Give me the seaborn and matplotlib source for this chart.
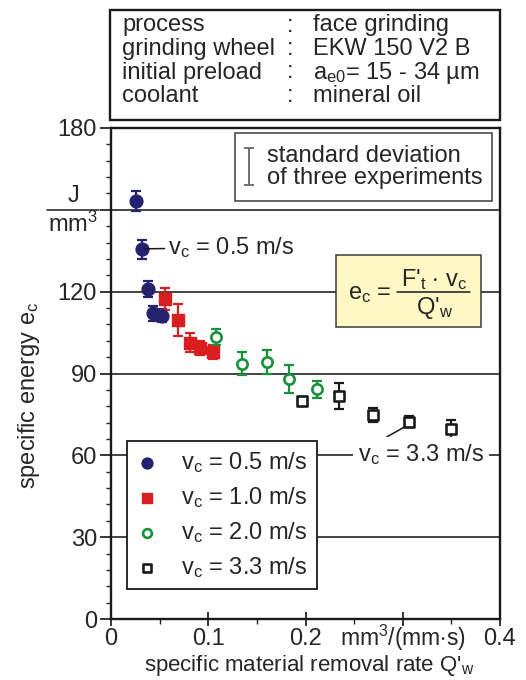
import matplotlib
matplotlib.use("Agg")
import matplotlib.pyplot as plt
import seaborn as sns
import pandas as pd
from matplotlib.patches import Rectangle
from matplotlib.lines import Line2D
from matplotlib.ticker import MultipleLocator
import matplotlib.transforms as mtrans

# ---------------- data ----------------
q05 = [0.0257, 0.0316, 0.0384, 0.0435, 0.0520]
e05 = [153.2, 135.6, 121.0, 112.1, 111.2]
s05 = [3.7, 3.5, 2.9, 2.8, 2.5]

q10 = [0.0555, 0.0686, 0.0812, 0.0915, 0.1050]
e10 = [117.3, 109.6, 101.3, 99.3, 98.0]
s10 = [4.0, 5.8, 3.5, 2.5, 2.6]

q20 = [0.1077, 0.1350, 0.1600, 0.1834, 0.2118]
e20 = [103.3, 93.5, 94.3, 88.0, 84.2]
s20 = [2.9, 4.2, 4.3, 5.2, 3.0]

q33 = [0.1960, 0.2344, 0.2697, 0.3067, 0.3493]
e33 = [80.0, 81.7, 74.8, 72.3, 69.5]
s33 = [1.5, 4.7, 2.7, 2.0, 3.6]

series_labels = [r"v$_\mathrm{c}$ = 0.5 m/s", r"v$_\mathrm{c}$ = 1.0 m/s",
                 r"v$_\mathrm{c}$ = 2.0 m/s", r"v$_\mathrm{c}$ = 3.3 m/s"]
x_ticks = [0, 0.1, 0.2, 0.3, 0.4]
x_ticklabels = ["0", "0.1", "0.2", r"mm$^\mathrm{3}$/(mm$\cdot$s)", "0.4"]
y_ticks = [0, 30, 60, 90, 120, 150, 180]
y_ticklabels = ["0", "30", "60", "90", "120", "", "180"]

info_keys = ["process", "grinding wheel", "initial preload", "coolant"]
info_vals = ["face grinding", "EKW 150 V2 B", r"a$_\mathrm{e0}$= 15 - 34 µm", "mineral oil"]

# ---------------- style ----------------
sns.set_style("white")
plt.rcParams["font.family"] = ["Liberation Sans", "DejaVu Sans"]
plt.rcParams["mathtext.fontset"] = "custom"
plt.rcParams["mathtext.rm"] = "Liberation Sans"
plt.rcParams["mathtext.it"] = "Liberation Sans"
plt.rcParams["mathtext.bf"] = "Liberation Sans:bold"

FS = 17
c05, c10, c20, c33 = "#24216e", "#d81e1e", "#17913a", "#1a1a1a"

fig = plt.figure(figsize=(5.26, 6.80), dpi=100)
ax = fig.add_axes([111/526, 1-619/680, 389/526, 491/680])

df = pd.concat([
    pd.DataFrame({"q": q05, "e": e05, "s": s05, "v": series_labels[0]}),
    pd.DataFrame({"q": q10, "e": e10, "s": s10, "v": series_labels[1]}),
    pd.DataFrame({"q": q20, "e": e20, "s": s20, "v": series_labels[2]}),
    pd.DataFrame({"q": q33, "e": e33, "s": s33, "v": series_labels[3]}),
])

# gridlines
for yv in [30, 60, 90, 120, 150]:
    ax.axhline(yv, color="#222222", lw=1.2, zorder=1)

styles = [
    (series_labels[0], c05, "o", c05, 85, 1.0),
    (series_labels[1], c10, "s", c10, 80, 1.0),
    (series_labels[2], c20, "o", "white", 55, 1.9),
    (series_labels[3], c33, "s", "white", 52, 1.9),
]
for lab, col, mk, fc, size, lw in styles:
    d = df[df["v"] == lab]
    ax.errorbar(d["q"], d["e"], yerr=d["s"], fmt="none", ecolor=col,
                elinewidth=1.6, capsize=3.8, capthick=1.6, zorder=3)
    sns.scatterplot(data=d, x="q", y="e", marker=mk, color=col, facecolor=fc,
                    edgecolor=col, linewidth=lw, s=size, ax=ax, zorder=4,
                    label=lab)

ax.set_xlim(0, 0.4)
ax.set_ylim(0, 180)
ax.set_xticks(x_ticks)
# the unit (at x=0.3) is drawn separately so it can sit slightly higher
ax.set_xticklabels([t if i != 3 else "" for i, t in enumerate(x_ticklabels)], fontsize=FS)
ax.text(x_ticks[3], -0.054, x_ticklabels[3], fontsize=16.5, ha="center", va="baseline",
        transform=mtrans.blended_transform_factory(ax.transData, ax.transAxes), clip_on=False)
ax.set_yticks(y_ticks)
ax.set_yticklabels(y_ticklabels, fontsize=FS)
ax.xaxis.set_minor_locator(MultipleLocator(0.05))
ax.yaxis.set_minor_locator(MultipleLocator(6))
ax.tick_params(axis="y", which="major", direction="out", length=8, width=1.3, pad=2, left=True)
ax.tick_params(axis="y", which="minor", direction="out", length=3.5, width=1.0, left=True)
ax.tick_params(axis="x", which="major", direction="inout", length=10, width=1.3, pad=1.5, bottom=True)
ax.tick_params(axis="x", which="minor", direction="out", length=3.5, width=1.0, bottom=True)
for sp in ax.spines.values():
    sp.set_linewidth(1.7)
    sp.set_color("#1a1a1a")

ax.set_xlabel(r"specific material removal rate Q'$_\mathrm{w}$", fontsize=16)
ax.xaxis.set_label_coords(0.51, -0.070)
ax.set_ylabel(r"specific energy e$_\mathrm{c}$", fontsize=FS)
ax.yaxis.set_label_coords(-0.177, 0.455)

# J / mm3 unit label at 150
tr = mtrans.blended_transform_factory(ax.transAxes, ax.transData)
ux = (73-111)/389
ax.text(ux, 151.0, "J", ha="center", va="bottom", fontsize=FS, transform=tr, clip_on=False)
ax.text(ux, 149.2, r"mm$^\mathrm{3}$", ha="center", va="top", fontsize=FS, transform=tr, clip_on=False)
ax.add_line(Line2D([(47-111)/389, (99-111)/389], [150, 150], transform=tr,
                   color="#1a1a1a", lw=1.1, clip_on=False))

# legend
leg = ax.legend(loc="lower left", bbox_to_anchor=(0.040, 0.061), borderaxespad=0,
                fontsize=FS, frameon=True, fancybox=False, edgecolor="#1a1a1a",
                framealpha=1, handletextpad=1.0, labelspacing=0.42, borderpad=0.4,
                handlelength=0.9, markerscale=0.85)
leg.get_frame().set_linewidth(1.3)
leg.set_zorder(6)

# annotations
ax.annotate(series_labels[0], xy=(0.0345, 135.7), xytext=(0.0585, 136.2),
            fontsize=FS, va="center", ha="left",
            arrowprops=dict(arrowstyle="-", color="#1a1a1a", lw=1.1, shrinkA=0, shrinkB=0),
            zorder=5)
ax.annotate(series_labels[3], xy=(0.3013, 70.3), xytext=(0.254, 60.4),
            fontsize=FS, va="center", ha="left",
            bbox=dict(boxstyle="square,pad=0.2", fc="white", ec="none"),
            arrowprops=dict(arrowstyle="-", color="#1a1a1a", lw=1.1, shrinkA=0, shrinkB=0,
                            relpos=(0.16, 1.0)),
            zorder=5)

# standard deviation box
ax.add_patch(Rectangle((0.1275, 153.3), 0.264, 24.8, fc="white", ec="#3a3a3a", lw=1.1, zorder=5))
ax.errorbar([0.142], [165.9], yerr=[6.7], fmt="none", ecolor="#666666",
            elinewidth=1.3, capsize=3.3, capthick=1.3, zorder=6)
ax.text(0.1605, 165.8, "standard deviation\nof three experiments", fontsize=FS,
        va="center", ha="left", linespacing=1.0, zorder=6)

# formula box
ax.add_patch(Rectangle((0.231, 106.9), 0.1495, 26.5, fc="#fff7c4", ec="#3a3a3a", lw=1.1, zorder=5))
ax.text(0.2435, 119.3, r"e$_\mathrm{c}$ =", fontsize=FS, va="center", ha="left", zorder=6)
ax.text(0.332, 124.3, r"F'$_\mathrm{t}$ $\cdot$ v$_\mathrm{c}$", fontsize=FS, va="center", ha="center", zorder=6)
ax.text(0.333, 113.9, r"Q'$_\mathrm{w}$", fontsize=FS, va="center", ha="center", zorder=6)
ax.add_line(Line2D([0.294, 0.3695], [120.0, 120.0], color="#1a1a1a", lw=1.1, zorder=6))

# info box
fig.add_artist(Rectangle((110/526, 1-120/680), 390/526, 110/680, transform=fig.transFigure,
                         fc="white", ec="#1a1a1a", lw=1.7))
rows_base = [31.5, 55, 78.5, 102]
for yy, k, v in zip(rows_base, info_keys, info_vals):
    fig.text(122/526, 1-yy/680, k, fontsize=FS, va="baseline", ha="left")
    fig.text(287/526, 1-yy/680, ":", fontsize=FS, va="baseline", ha="left")
    fig.text(313/526, 1-yy/680, v, fontsize=FS, va="baseline", ha="left")

fig.savefig("out.png", dpi=100)
